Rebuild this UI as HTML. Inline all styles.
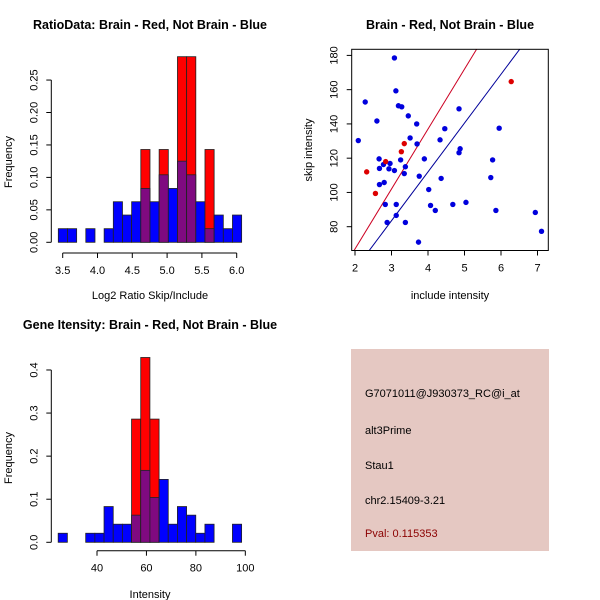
<!DOCTYPE html>
<html><head><meta charset="utf-8"><style>
html,body{margin:0;padding:0;background:#fff;}
svg{display:block;font-family:"Liberation Sans",sans-serif;}
</style></head><body>
<svg id="c" width="600" height="600" viewBox="0 0 600 600">
<rect width="600" height="600" fill="#fff"/>
<text x="150" y="29" text-anchor="middle" font-size="12.5" font-weight="bold">RatioData: Brain - Red, Not Brain - Blue</text>
<text x="450" y="29" text-anchor="middle" font-size="12.5" font-weight="bold">Brain - Red, Not Brain - Blue</text>
<text x="150" y="329" text-anchor="middle" font-size="12.5" font-weight="bold">Gene Itensity: Brain - Red, Not Brain - Blue</text>
<text x="150" y="299" text-anchor="middle" font-size="11">Log2 Ratio Skip/Include</text>
<text transform="translate(12,162) rotate(-90)" text-anchor="middle" font-size="11">Frequency</text>
<text x="450" y="299" text-anchor="middle" font-size="11">include intensity</text>
<text transform="translate(312,150) rotate(-90)" text-anchor="middle" font-size="11">skip intensity</text>
<text x="150" y="598" text-anchor="middle" font-size="11">Intensity</text>
<text transform="translate(12,458) rotate(-90)" text-anchor="middle" font-size="11">Frequency</text>
<g>
<rect x="351" y="349" width="198" height="202" fill="#e5c8c2"/>
<text x="365" y="397" font-size="11">G7071011@J930373_RC@i_at</text>
<text x="365" y="434" font-size="11">alt3Prime</text>
<text x="365" y="469" font-size="11">Stau1</text>
<text x="365" y="504" font-size="11">chr2.15409-3.21</text>
<text x="365" y="537" font-size="11" fill="#8b0000">Pval: 0.115353</text>
</g>
</svg>
<script>
const NS="http://www.w3.org/2000/svg";
const svg=document.getElementById('c');
// ---- Ratio histogram data ----
const ratioBinStart=3.437, ratioBinWidth=0.1317;
const ratioBlue=[0.021,0.021,0,0.021,0,0.021,0.0625,0.042,0.0625,0.083,0.0625,0.104,0.083,0.125,0.104,0.0625,0.021,0.042,0.021,0.042];
const ratioRed=[0,0,0,0,0,0,0,0,0,0.143,0,0.143,0,0.286,0.286,0,0.143,0,0,0];
const ratioXTicks=["3.5","4.0","4.5","5.0","5.5","6.0"];
const ratioYTicks=["0.00","0.05","0.10","0.15","0.20","0.25"];
// ---- Intensity histogram data ----
const intBinStart=24.3, intBinWidth=3.71;
const intBlue=[0.021,0,0,0.021,0.021,0.083,0.042,0.042,0.063,0.167,0.104,0.146,0.042,0.083,0.063,0.021,0.042,0,0,0.042];
const intRed=[0,0,0,0,0,0,0,0,0.286,0.429,0.286,0,0,0,0,0,0,0,0,0];
const intXTicks=["40","60","80","100"];
const intYTicks=["0.0","0.1","0.2","0.3","0.4"];
// ---- Scatter data ----
const blueX=[3.08,2.28,3.12,3.19,3.28,3.46,3.69,2.6,2.09,3.51,4.85,4.46,4.33,3.7,4.88,4.85,5.95,2.66,3.25,3.9,5.77,2.78,2.96,3.38,2.67,2.93,3.08,3.35,3.76,4.36,5.72,2.67,2.8,4.02,2.83,3.13,4.07,4.68,5.04,4.2,5.86,3.13,2.88,3.38,3.74,6.94,7.11];
const blueY=[178.5,152.8,159.3,150.6,150,144.7,140,141.7,130.3,131.8,148.8,137.2,130.7,128.3,125.5,123.2,137.5,119.6,119,119.6,119,116.3,116.9,115,114,113.8,112.8,111,109.5,108.2,108.7,104.6,105.8,101.7,93,93,92.4,93,94.2,89.5,89.5,86.6,82.5,82.5,71,88.3,77.3];
const redX=[6.28,2.32,2.56,2.84,3.27,3.35];
const redY=[164.7,112,99.4,118,123.8,128.5];
const scatterXTicks=["2","3","4","5","6","7"];
const scatterYTicks=["80","100","120","140","160","180"];
const fitRed=[-3,35];   // intercept, slope
const fitBlue=[-2,28.5];

function el(tag,attrs,parent){const e=document.createElementNS(NS,tag);for(const k in attrs)e.setAttribute(k,attrs[k]);(parent||svg).appendChild(e);return e;}

function hist(opts){
  const g=el('g',{});
  
  
  const xs=v=>opts.x0px+(v-opts.x0)*opts.xk;
  const ys=v=>opts.y0px-v*opts.yk;
  for(let i=0;i<opts.blue.length;i++){
    const a=xs(opts.start+i*opts.width), b=xs(opts.start+(i+1)*opts.width);
    if(opts.red[i]>0){
      const r=el('rect',{x:a,y:ys(opts.red[i]),width:b-a,height:opts.red[i]*opts.yk,fill:'#ff0000',stroke:'#222','stroke-width':0.8},g);
      
      
    }
    if(opts.blue[i]>0){
      const r=el('rect',{x:a,y:ys(opts.blue[i]),width:b-a,height:opts.blue[i]*opts.yk,fill:opts.red[i]>0?'#7f0a80':'#0000ff',stroke:'#222','stroke-width':0.8},g);
      
      
    }
  }
  const xt=opts.xticks.map(Number);
  el('line',{x1:xs(xt[0]),x2:xs(xt[xt.length-1]),y1:opts.xaxisY,y2:opts.xaxisY,stroke:'#000'},g);
  opts.xticks.forEach(t=>{const x=xs(+t);el('line',{x1:x,x2:x,y1:opts.xaxisY,y2:opts.xaxisY+5,stroke:'#000'},g);
    const tx=el('text',{x:x,y:opts.xaxisY+21,'text-anchor':'middle','font-size':11},g);tx.textContent=t;
    
    });
  const yt=opts.yticks.map(Number);
  el('line',{x1:opts.yaxisX,x2:opts.yaxisX,y1:ys(yt[0]),y2:ys(yt[yt.length-1]),stroke:'#000'},g);
  opts.yticks.forEach(t=>{const y=ys(+t);el('line',{x1:opts.yaxisX-5,x2:opts.yaxisX,y1:y,y2:y,stroke:'#000'},g);
    const tx=el('text',{transform:`translate(${opts.yaxisX-14},${y}) rotate(-90)`,'text-anchor':'middle','font-size':11},g);tx.textContent=t;
    
    });
}
hist({name:'ratio-histogram',blue:ratioBlue,red:ratioRed,start:ratioBinStart,width:ratioBinWidth,x0:3.5,x0px:62.7,xk:69.6,y0px:242.3,yk:649,xaxisY:253,yaxisX:51.3,xticks:ratioXTicks,yticks:ratioYTicks});
hist({name:'intensity-histogram',blue:intBlue,red:intRed,start:intBinStart,width:intBinWidth,x0:40,x0px:97,xk:2.472,y0px:542.3,yk:430.8,xaxisY:550.7,yaxisX:51.3,xticks:intXTicks,yticks:intYTicks});

(function(){
  const g=el('g',{});
  
  
  const L=351.7,R=548.3,T=49.3,B=250.5;
  const xs=v=>355+(v-2)*36.5;
  const ys=v=>226.7-(v-80)*1.713;
  const cp=el('clipPath',{id:'sc'},g);el('rect',{x:L,y:T,width:R-L,height:B-T},cp);
  const lg=el('g',{'clip-path':'url(#sc)'},g);
  [[fitRed,'#cc0022'],[fitBlue,'#000099']].forEach(([f,c])=>{
    const xa=1.5,xb=8;
    const ln=el('line',{x1:xs(xa),y1:ys(f[0]+f[1]*xa),x2:xs(xb),y2:ys(f[0]+f[1]*xb),stroke:c,'stroke-width':1},lg);
    
    
  });
  blueX.forEach((x,i)=>{const c=el('circle',{cx:xs(x),cy:ys(blueY[i]),r:2.7,fill:'#0000dd'},g);
    
    });
  redX.forEach((x,i)=>{const c=el('circle',{cx:xs(x),cy:ys(redY[i]),r:2.7,fill:'#dd0000'},g);
    
    });
  el('rect',{x:L,y:T,width:R-L,height:B-T,fill:'none',stroke:'#000'},g);
  scatterXTicks.forEach(t=>{const x=xs(+t);el('line',{x1:x,x2:x,y1:B,y2:B+5,stroke:'#000'},g);
    const tx=el('text',{x:x,y:B+21,'text-anchor':'middle','font-size':11},g);tx.textContent=t;
    
    });
  scatterYTicks.forEach(t=>{const y=ys(+t);el('line',{x1:L-5,x2:L,y1:y,y2:y,stroke:'#000'},g);
    const tx=el('text',{transform:`translate(${L-14},${y}) rotate(-90)`,'text-anchor':'middle','font-size':11},g);tx.textContent=t;
    
    });
})();
</script>
</body></html>
